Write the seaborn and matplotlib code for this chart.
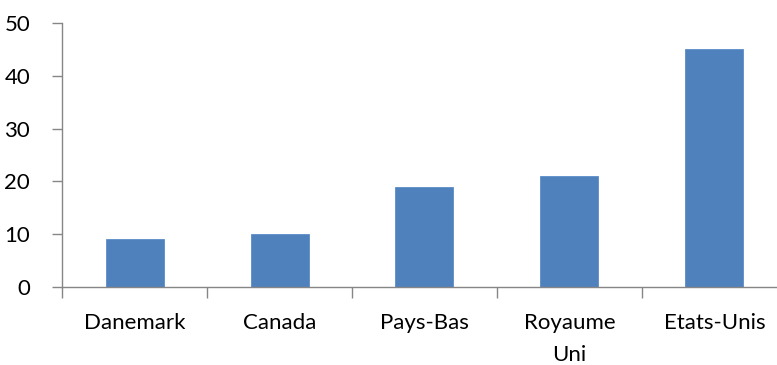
import matplotlib
matplotlib.use("Agg")
import matplotlib.pyplot as plt
import seaborn as sns
import pandas as pd

categories = ["Danemark", "Canada", "Pays-Bas", "Royaume\nUni", "Etats-Unis"]
values = [9, 10, 19, 21, 45]
y_ticks = [0, 10, 20, 30, 40, 50]

sns.set_theme(style="white")
plt.rcParams['font.family'] = ['Lato', 'DejaVu Sans']

df = pd.DataFrame({"pays": categories, "valeur": values})

W, H = 777, 365
fig = plt.figure(figsize=(W / 100, H / 100), dpi=100)
left, right, top, bottom = 62, 787, 23, 287
ax = fig.add_axes([left / W, 1 - bottom / H, (right - left) / W, (bottom - top) / H])

sns.barplot(data=df, x="pays", y="valeur", color="#4F81BD", width=0.4,
            saturation=1, edgecolor="#5B8CC8", linewidth=0.6, ax=ax)

gray = "#868686"
fs = 16
ax.set_ylim(0, 50)
ax.set_xlim(-0.5, len(categories) - 0.5)
ax.set_yticks(y_ticks)
ax.set_xticks([i - 0.5 for i in range(len(categories) + 1)], minor=False)
ax.set_xticklabels([])
ax.set_xticks(range(len(categories)), minor=True)
ax.set_xticklabels(categories, minor=True)
ax.tick_params(axis="x", which="major", direction="out", length=8, width=1, color=gray, bottom=True)
ax.tick_params(axis="x", which="minor", length=0, pad=19, labelsize=fs, labelcolor="black")
ax.tick_params(axis="y", direction="out", length=7, width=1, color=gray, left=True,
               labelsize=fs, pad=16, labelcolor="black")
for lab in ax.get_xticklabels(minor=True):
    lab.set_verticalalignment("top")
    lab.set_linespacing(1.75)

for s in ["top", "right"]:
    ax.spines[s].set_visible(False)
for s in ["left", "bottom"]:
    ax.spines[s].set_color(gray)
    ax.spines[s].set_linewidth(1)

ax.set_xlabel("")
ax.set_ylabel("")
fig.savefig("out.png", dpi=100)
